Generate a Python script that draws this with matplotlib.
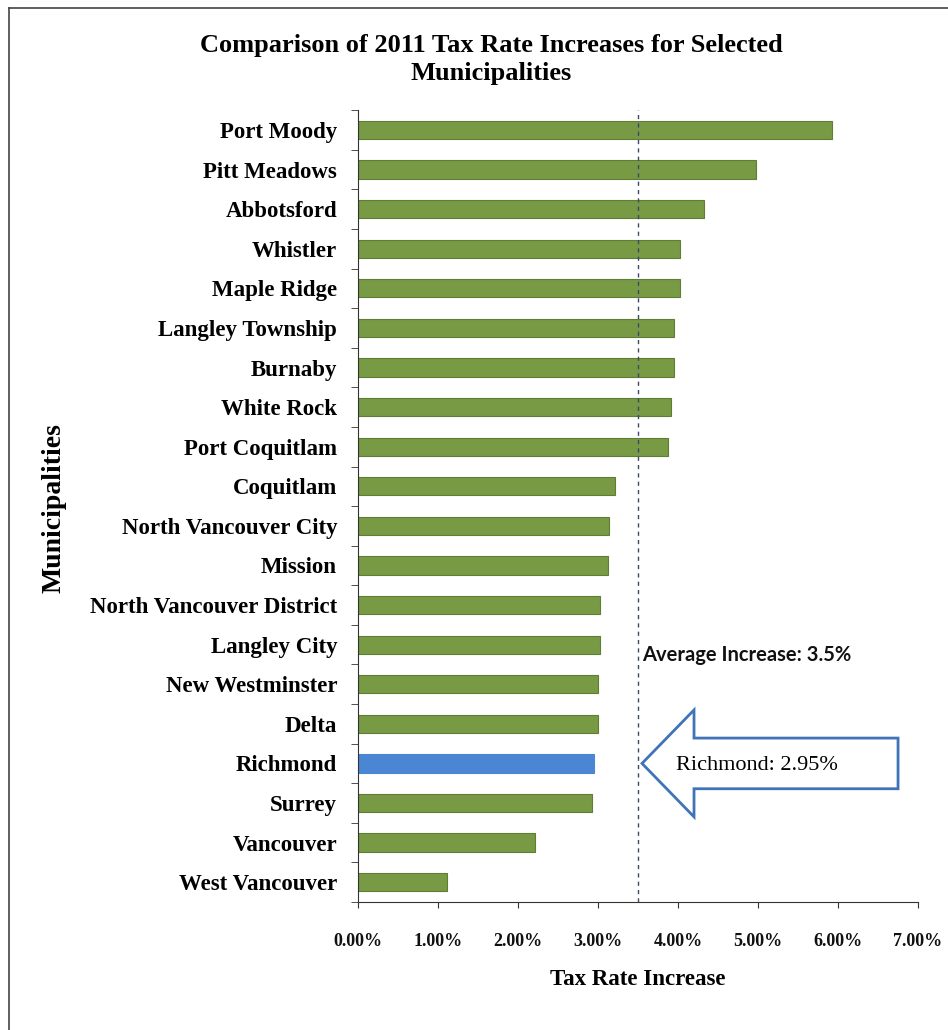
import numpy as np
import matplotlib
matplotlib.use('Agg')
import matplotlib.pyplot as plt
from matplotlib.patches import Polygon
from matplotlib.ticker import FuncFormatter, FixedLocator
from matplotlib.lines import Line2D

# 2011 tax rate increases (%), top to bottom
municipalities = ['Port Moody', 'Pitt Meadows', 'Abbotsford', 'Whistler', 'Maple Ridge',
                  'Langley Township', 'Burnaby', 'White Rock', 'Port Coquitlam', 'Coquitlam',
                  'North Vancouver City', 'Mission', 'North Vancouver District', 'Langley City',
                  'New Westminster', 'Delta', 'Richmond', 'Surrey', 'Vancouver', 'West Vancouver']
increases = [5.93, 4.97, 4.32, 4.02, 4.02,
             3.95, 3.95, 3.91, 3.88, 3.21,
             3.14, 3.12, 3.02, 3.02,
             3.00, 3.00, 2.95, 2.93, 2.21, 1.11]
average_increase = 3.5
highlight = 'Richmond'
x_ticks = [0, 1, 2, 3, 4, 5, 6, 7]

serif = 'Liberation Serif'
green = '#789a45'
green_edge = '#5f7d33'
blue = '#4a86d4'

fig = plt.figure(figsize=(9.48, 10.30), dpi=100)
ax = fig.add_axes([0.3776, 0.1243, 0.5908, 0.7687])

n = len(municipalities)
ypos = np.arange(n)[::-1]
colors = [blue if m == highlight else green for m in municipalities]
edges = [blue if m == highlight else green_edge for m in municipalities]
ax.barh(ypos, increases, height=0.46, color=colors, edgecolor=edges, linewidth=0.8)

ax.set_xlim(0, 7)
ax.set_ylim(-0.5, n - 0.5)

# average line
ax.axvline(average_increase, color='#3a4a66', linestyle=(0, (3, 3)), linewidth=1.0)
ax.text(average_increase + 0.05, ypos[municipalities.index('Langley City')] - 0.25,
        'Average Increase: %.1f%%' % average_increase, fontsize=14.5, fontweight='bold',
        family='Lato', ha='left', va='center', color='#111111')

# callout arrow for the highlighted bar
yr = ypos[municipalities.index(highlight)]
tip = 3.55
head_base = 4.2
tail = 6.75
head_h = 1.35
shaft_h = 0.64
arrow = Polygon([(tip, yr), (head_base, yr + head_h), (head_base, yr + shaft_h),
                 (tail, yr + shaft_h), (tail, yr - shaft_h), (head_base, yr - shaft_h),
                 (head_base, yr - head_h)], closed=True, facecolor='white',
                edgecolor='#3f74b8', linewidth=2.0, zorder=3)
ax.add_patch(arrow)
ax.text(3.97, yr - 0.05, '%s: %.2f%%' % (highlight, increases[municipalities.index(highlight)]),
        fontsize=16, family=serif, ha='left', va='center', zorder=4)

# axes styling
for side in ['top', 'right']:
    ax.spines[side].set_visible(False)
ax.spines['left'].set_color('#333333')
ax.spines['bottom'].set_color('#333333')

ax.xaxis.set_major_locator(FixedLocator(x_ticks))
ax.xaxis.set_major_formatter(FuncFormatter(lambda v, p: '%.2f%%' % v))
ax.tick_params(axis='x', direction='out', length=4, pad=18, labelsize=13, colors='#333333',
               labelcolor='#111111')
for lab in ax.get_xticklabels():
    lab.set_fontfamily(serif)
    lab.set_fontweight('bold')

ax.set_yticks(ypos)
ax.set_yticklabels(municipalities, fontsize=16.5, family=serif, fontweight='bold')
ax.yaxis.set_minor_locator(FixedLocator(np.arange(-0.5, n, 1.0)))
ax.tick_params(axis='y', which='major', length=0, pad=15)
ax.tick_params(axis='y', which='minor', length=5, direction='out', colors='#333333')

ax.set_xlabel('Tax Rate Increase', fontsize=16.5, family=serif, fontweight='bold', labelpad=14)
fig.text(0.057, 0.507, 'Municipalities', rotation=90, fontsize=20, family=serif,
         fontweight='bold', ha='center', va='center')

fig.text(0.518, 0.942, 'Comparison of 2011 Tax Rate Increases for Selected\nMunicipalities',
         fontsize=19, family=serif, fontweight='bold', ha='center', va='center',
         linespacing=1.25)

# page frame
fig.add_artist(Line2D([0.0095, 0.0095], [0.0, 0.992], transform=fig.transFigure,
                      color='#444444', linewidth=1.2))
fig.add_artist(Line2D([0.0095, 1.0], [0.992, 0.992], transform=fig.transFigure,
                      color='#444444', linewidth=1.2))

fig.savefig('out.png', dpi=100, facecolor='white')
